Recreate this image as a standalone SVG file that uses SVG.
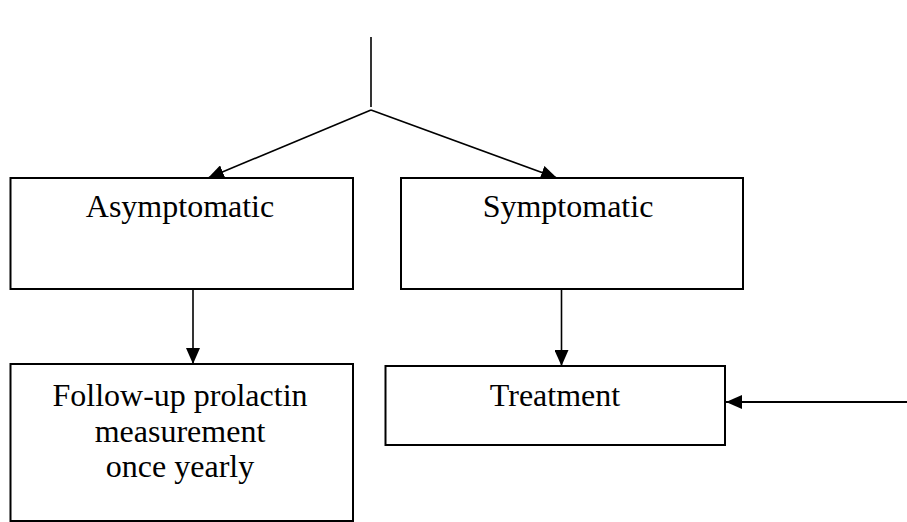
<svg xmlns="http://www.w3.org/2000/svg" width="907" height="522" viewBox="0 0 907 522">
  <style>
    .box { fill: #ffffff; stroke: #000000; stroke-width: 2; }
    .lbl { font-family: "Liberation Serif", "Times New Roman", serif; font-size: 32px; fill: #000000; text-anchor: middle; }
    .con { fill: none; stroke: #000000; stroke-width: 1.6; }
  </style>
  <defs>
    <marker id="arr" markerUnits="userSpaceOnUse" markerWidth="16" markerHeight="14" viewBox="0 0 16 14" refX="16" refY="7" orient="auto">
      <path d="M0,0 L16,7 L0,14 Z" fill="#000000"/>
    </marker>
  </defs>
  <rect width="907" height="522" fill="#ffffff"/>
  <g id="connectors">
    <line class="con" x1="371" y1="37" x2="371" y2="107"/>
    <line class="con" x1="371" y1="110" x2="208" y2="178" marker-end="url(#arr)"/>
    <line class="con" x1="371" y1="110" x2="557" y2="178" marker-end="url(#arr)"/>
    <line class="con" x1="193" y1="289" x2="193" y2="364" marker-end="url(#arr)"/>
    <line class="con" x1="561.5" y1="289" x2="561.5" y2="366" marker-end="url(#arr)"/>
    <line class="con" style="stroke-width:2.2" x1="907" y1="402" x2="726" y2="402" marker-end="url(#arr)"/>
  </g>
  <g id="node-asymptomatic">
    <rect class="box" x="10.5" y="178" width="342.5" height="111"/>
    <text class="lbl" x="180" y="217">Asymptomatic</text>
  </g>
  <g id="node-symptomatic">
    <rect class="box" x="401" y="178" width="342" height="111"/>
    <text class="lbl" x="568" y="217">Symptomatic</text>
  </g>
  <g id="node-followup">
    <rect class="box" x="10.5" y="364" width="342.5" height="157"/>
    <text class="lbl" x="180" y="406">Follow-up prolactin</text>
    <text class="lbl" x="180" y="442">measurement</text>
    <text class="lbl" x="180" y="477">once yearly</text>
  </g>
  <g id="node-treatment">
    <rect class="box" x="385.5" y="366" width="339.5" height="79"/>
    <text class="lbl" x="555" y="406">Treatment</text>
  </g>
</svg>
